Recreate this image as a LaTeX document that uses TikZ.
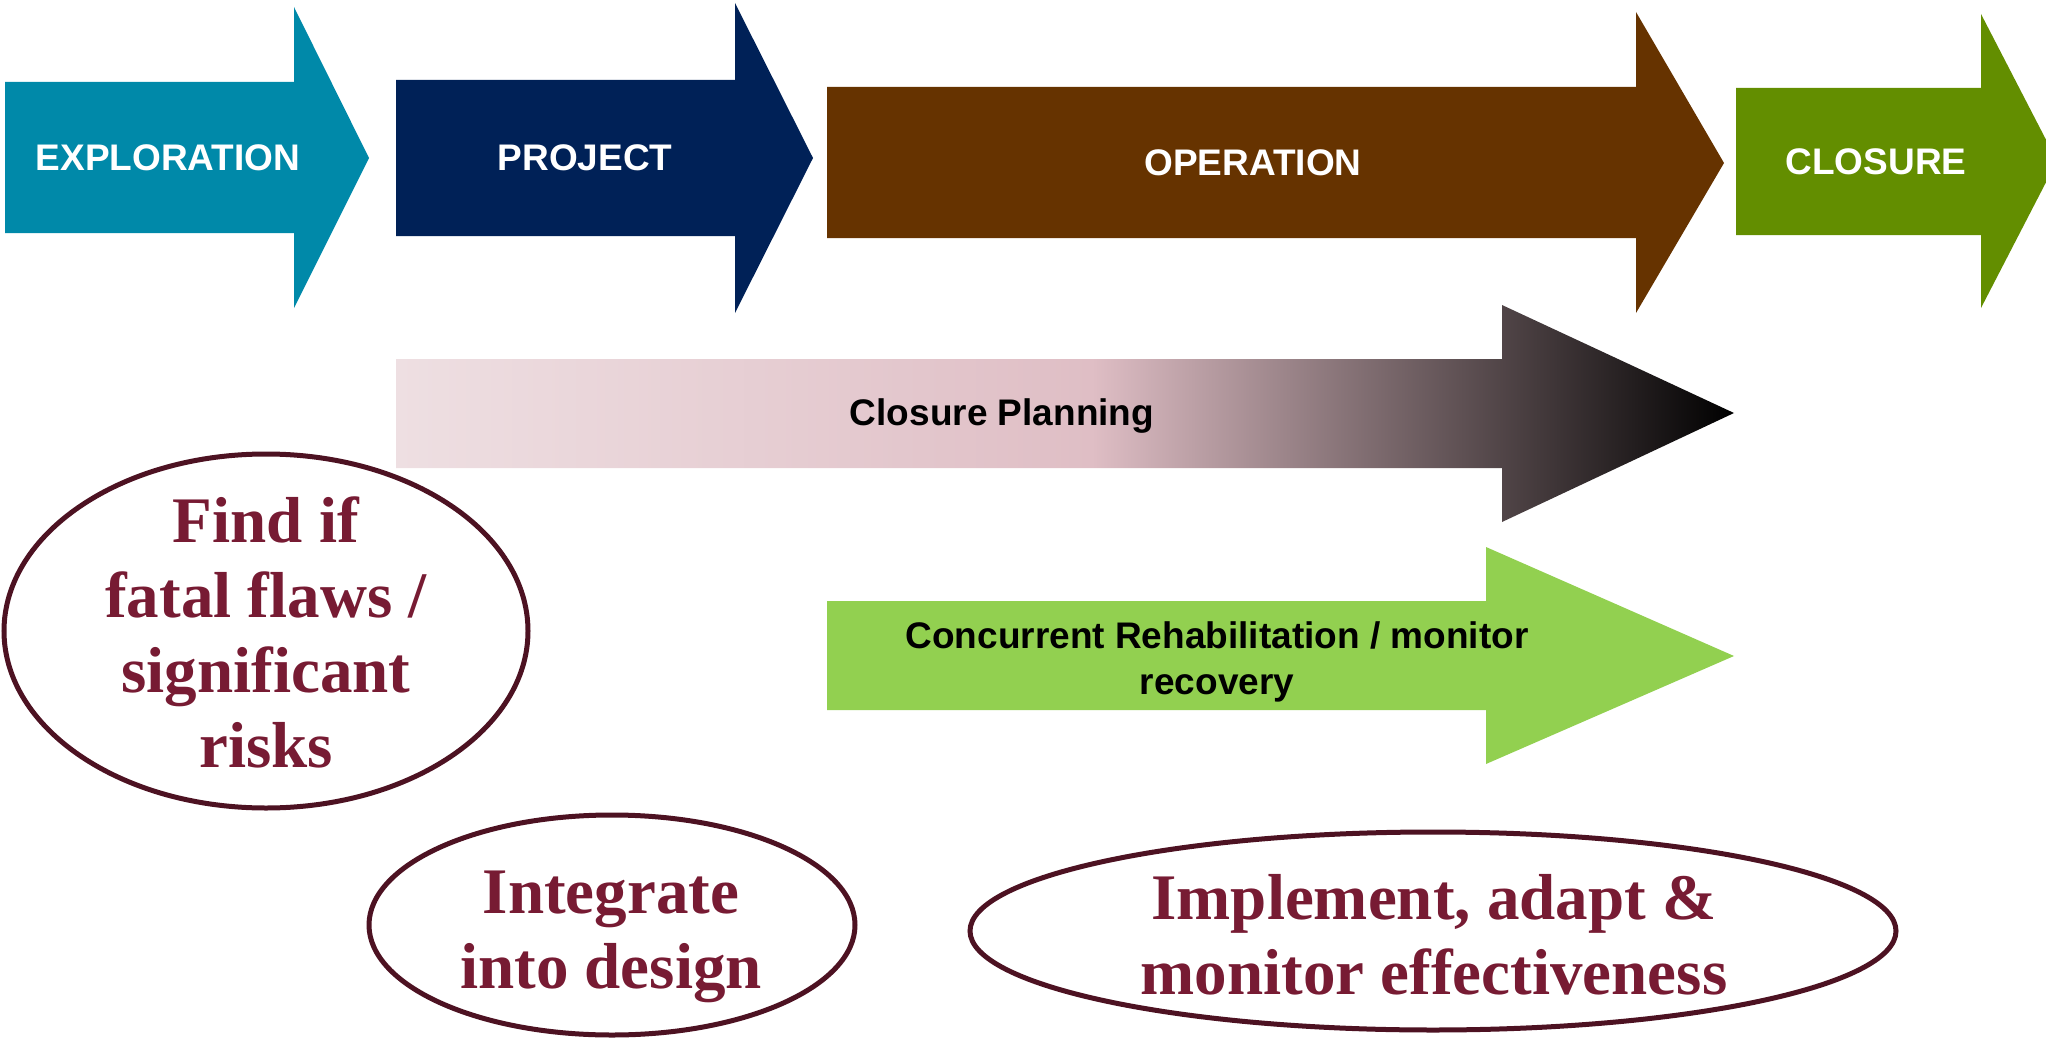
\documentclass[tikz,border=0pt]{standalone}
\usepackage{fontspec}
\setmainfont{Liberation Serif}
\setsansfont{Liberation Sans}
\definecolor{explblue}{HTML}{0089A9}
\definecolor{projnavy}{HTML}{002157}
\definecolor{operbrown}{HTML}{663300}
\definecolor{closgreen}{HTML}{638E00}
\definecolor{rehabgreen}{HTML}{92D050}
\definecolor{ringline}{HTML}{4D1222}
\definecolor{ringtext}{HTML}{771B33}
\definecolor{planlight}{HTML}{EEDFE2}
\definecolor{planpink}{HTML}{DFBEC5}
\pgfdeclarehorizontalshading{planfade}{100bp}{color(0bp)=(planlight); color(25bp)=(planlight); color(51bp)=(planpink); color(75bp)=(black); color(100bp)=(black)}

\begin{document}
\begin{tikzpicture}[x=0.5pt,y=-0.5pt]
\tikzstyle{phase} = [text=white, inner sep=0pt, font=\sffamily\bfseries\fontsize{18.5}{22}\selectfont]
\tikzstyle{track} = [text=black, inner sep=0pt, align=center, font=\sffamily\bfseries\fontsize{18.5}{23}\selectfont]
\tikzstyle{goal} = [text=ringtext, inner sep=0pt, align=center, font=\bfseries\fontsize{32.5}{37.5}\selectfont]
\tikzstyle{ring} = [draw=ringline, line width=2.5pt]
\useasboundingbox (0,0) rectangle (2046,1038);
\clip (0,0) rectangle (2046,1038);
% phase arrows
\fill[explblue] (5,82) -- (294,82) -- (294,7) -- (369,158) -- (294,308) -- (294,233) -- (5,233) -- cycle;
\fill[projnavy] (396,80) -- (735,80) -- (735,3) -- (813,158) -- (735,313) -- (735,236) -- (396,236) -- cycle;
\fill[operbrown] (827,87) -- (1636,87) -- (1636,12) -- (1724,163) -- (1636,313) -- (1636,238) -- (827,238) -- cycle;
\fill[closgreen] (1736,88) -- (1981,88) -- (1981,14) -- (2057,161) -- (1981,308) -- (1981,235) -- (1736,235) -- cycle;
\node[phase] (expl) at (168,158) {EXPLORATION};
\node[phase] (proj) at (585,158) {PROJECT};
\node[phase] (oper) at (1253,163) {OPERATION};
\node[phase] (clos) at (1876,162) {CLOSURE};
% long arrows
\shade[shading=planfade] (396,359) -- (1502,359) -- (1502,305) -- (1734,413) -- (1502,522) -- (1502,468) -- (396,468) -- cycle;
\fill[rehabgreen] (827,601) -- (1486,601) -- (1486,547) -- (1734,656) -- (1486,764) -- (1486,710) -- (827,710) -- cycle;
\node[track] (plan) at (1002,416) {Closure Planning};
\node[track] (rehab) at (1217,662) {Concurrent Rehabilitation / monitor\\recovery};
% ellipses
\node[goal] (find) at (266,632) {Find if\\fatal flaws /\\significant\\risks};
\node[goal] (design) at (611,937) {Integrate\\into design};
\node[goal] (adapt) at (1434,935) {Implement, adapt \&\\monitor effectiveness};
\draw[ring] (find.center) ++(0,-1) ellipse [x radius=262, y radius=177];
\draw[ring] (design.center) ++(1,-12) ellipse [x radius=243, y radius=110];
\draw[ring] (adapt.center) ++(-1,-4) ellipse [x radius=463, y radius=99];
\end{tikzpicture}
\end{document}
